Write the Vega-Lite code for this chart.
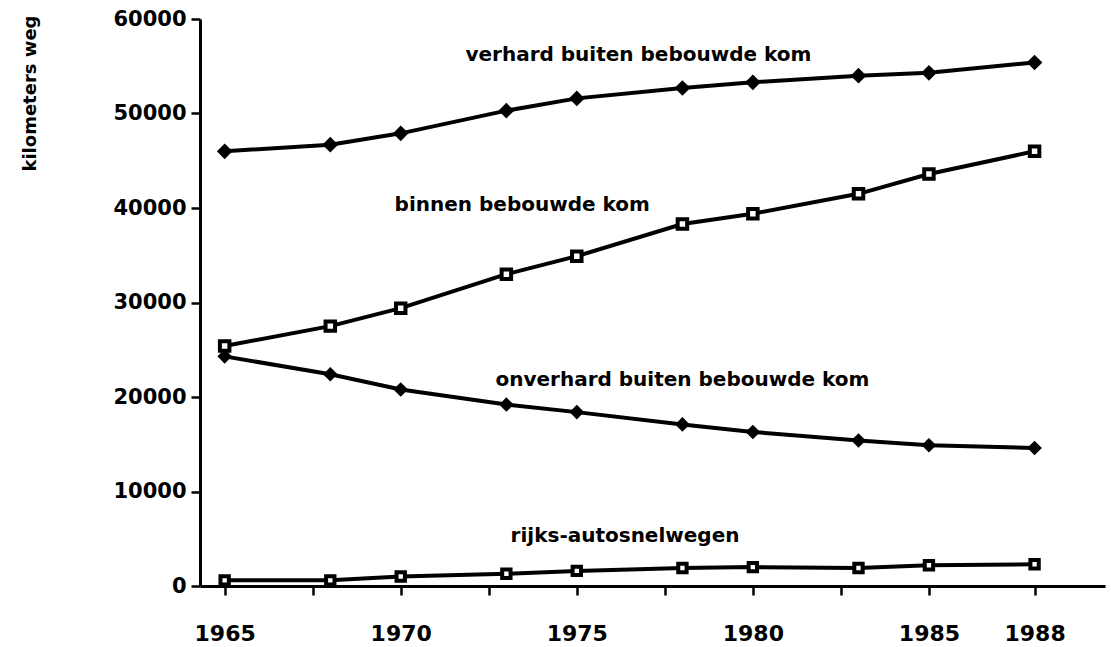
{
  "$schema": "https://vega.github.io/schema/vega-lite/v6.json",
  "width": 905,
  "height": 567,
  "autosize": {"type": "none"},
  "padding": {"left": 200, "top": 19, "right": 6, "bottom": 61},
  "background": "white",
  "config": {
    "view": {"stroke": null},
    "axis": {"grid": false, "domainColor": "black", "tickColor": "black", "labelColor": "black", "titleColor": "black"}
  },
  "datasets": {
    "series": [
      {"series": "verhard", "year": 1965, "km": 46000},
      {"series": "verhard", "year": 1968, "km": 46700},
      {"series": "verhard", "year": 1970, "km": 47900},
      {"series": "verhard", "year": 1973, "km": 50300},
      {"series": "verhard", "year": 1975, "km": 51600},
      {"series": "verhard", "year": 1978, "km": 52700},
      {"series": "verhard", "year": 1980, "km": 53300},
      {"series": "verhard", "year": 1983, "km": 54000},
      {"series": "verhard", "year": 1985, "km": 54300},
      {"series": "verhard", "year": 1988, "km": 55400},
      {"series": "binnen", "year": 1965, "km": 25400},
      {"series": "binnen", "year": 1968, "km": 27500},
      {"series": "binnen", "year": 1970, "km": 29400},
      {"series": "binnen", "year": 1973, "km": 33000},
      {"series": "binnen", "year": 1975, "km": 34900},
      {"series": "binnen", "year": 1978, "km": 38300},
      {"series": "binnen", "year": 1980, "km": 39400},
      {"series": "binnen", "year": 1983, "km": 41500},
      {"series": "binnen", "year": 1985, "km": 43600},
      {"series": "binnen", "year": 1988, "km": 46000},
      {"series": "onverhard", "year": 1965, "km": 24300},
      {"series": "onverhard", "year": 1968, "km": 22400},
      {"series": "onverhard", "year": 1970, "km": 20800},
      {"series": "onverhard", "year": 1973, "km": 19200},
      {"series": "onverhard", "year": 1975, "km": 18400},
      {"series": "onverhard", "year": 1978, "km": 17100},
      {"series": "onverhard", "year": 1980, "km": 16300},
      {"series": "onverhard", "year": 1983, "km": 15400},
      {"series": "onverhard", "year": 1985, "km": 14900},
      {"series": "onverhard", "year": 1988, "km": 14600},
      {"series": "rijks", "year": 1965, "km": 600},
      {"series": "rijks", "year": 1968, "km": 600},
      {"series": "rijks", "year": 1970, "km": 1000},
      {"series": "rijks", "year": 1973, "km": 1300},
      {"series": "rijks", "year": 1975, "km": 1600},
      {"series": "rijks", "year": 1978, "km": 1900},
      {"series": "rijks", "year": 1980, "km": 2000},
      {"series": "rijks", "year": 1983, "km": 1900},
      {"series": "rijks", "year": 1985, "km": 2200},
      {"series": "rijks", "year": 1988, "km": 2300}
    ],
    "labels": [
      {"label": "verhard buiten bebouwde kom", "year": 1976.75, "km": 56200},
      {"label": "binnen bebouwde kom", "year": 1973.45, "km": 40300},
      {"label": "onverhard buiten bebouwde kom", "year": 1978.0, "km": 21800},
      {"label": "rijks-autosnelwegen", "year": 1976.37, "km": 5300}
    ]
  },
  "layer": [
    {
      "data": {"name": "series"},
      "mark": {"type": "line", "color": "black", "strokeWidth": 4},
      "encoding": {
        "x": {
          "field": "year", "type": "quantitative",
          "scale": {"domain": [1964.3, 1990], "nice": false, "zero": false},
          "axis": {
            "title": null,
            "values": [1965, 1967.5, 1970, 1972.5, 1975, 1977.5, 1980, 1982.5, 1985, 1988],
            "labelExpr": "(datum.value % 5 == 0 || datum.value == 1988) ? format(datum.value, 'd') : ''",
            "labelFont": "DejaVu Sans", "labelFontWeight": "bold", "labelFontSize": 22,
            "labelPadding": 28, "tickSize": 9, "tickWidth": 2.5, "domainWidth": 3,
            "labelFlush": false, "labelOverlap": false
          }
        },
        "y": {
          "field": "km", "type": "quantitative",
          "scale": {"domain": [0, 60000], "nice": false},
          "axis": {
            "title": "kilometers weg",
            "values": [0, 10000, 20000, 30000, 40000, 50000, 60000],
            "format": "d",
            "labelFont": "DejaVu Sans", "labelFontWeight": "bold", "labelFontSize": 21,
            "labelPadding": 5, "tickSize": 9, "tickWidth": 2.5, "domainWidth": 3,
            "titleFont": "DejaVu Sans", "titleFontWeight": "bold", "titleFontSize": 18,
            "titleAngle": -90, "titleX": -170, "titleY": -4, "titleAlign": "right", "titleBaseline": "middle",
            "labelFlush": false
          }
        },
        "detail": {"field": "series"}
      }
    },
    {
      "data": {"name": "series"},
      "mark": {"type": "point", "stroke": "black", "strokeWidth": 4, "opacity": 1},
      "encoding": {
        "x": {"field": "year", "type": "quantitative"},
        "y": {"field": "km", "type": "quantitative"},
        "shape": {
          "field": "series", "type": "nominal",
          "scale": {"domain": ["verhard", "binnen", "onverhard", "rijks"], "range": ["diamond", "square", "diamond", "square"]},
          "legend": null
        },
        "fill": {
          "field": "series", "type": "nominal",
          "scale": {"domain": ["verhard", "binnen", "onverhard", "rijks"], "range": ["black", "white", "black", "white"]},
          "legend": null
        },
        "size": {
          "field": "series", "type": "nominal",
          "scale": {"domain": ["verhard", "binnen", "onverhard", "rijks"], "range": [100, 70, 100, 70]},
          "legend": null
        }
      }
    },
    {
      "data": {"name": "labels"},
      "mark": {"type": "text", "font": "DejaVu Sans", "fontWeight": "bold", "fontSize": 20, "color": "black", "align": "center", "baseline": "middle"},
      "encoding": {
        "x": {"field": "year", "type": "quantitative"},
        "y": {"field": "km", "type": "quantitative"},
        "text": {"field": "label"}
      }
    }
  ]
}
